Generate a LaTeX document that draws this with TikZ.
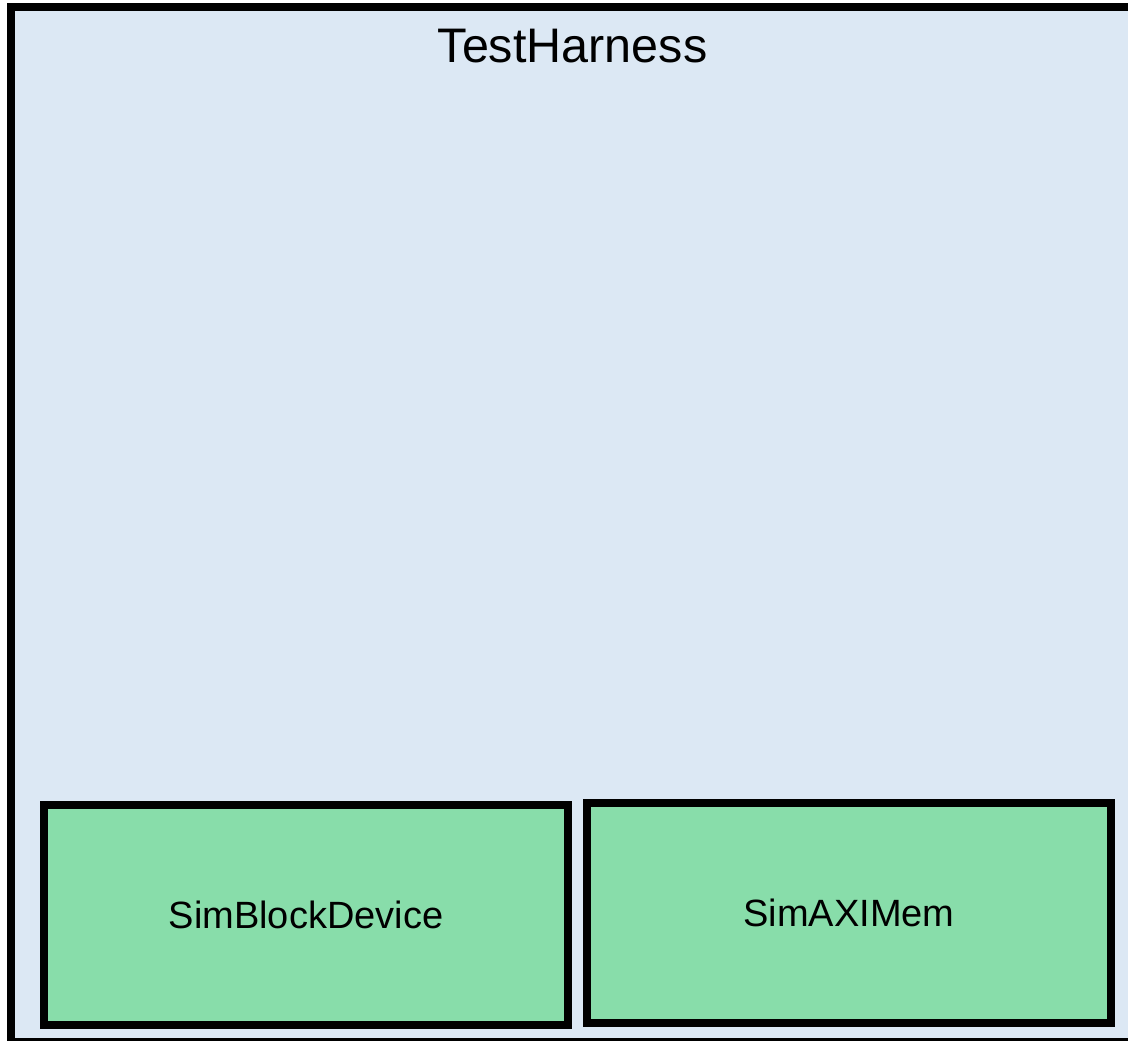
\documentclass[tikz,border=0pt]{standalone}
\usepackage{fontspec}
\setmainfont{Liberation Sans}
\definecolor{harnessfill}{HTML}{DCE8F4}
\definecolor{modfill}{HTML}{88DDAA}
\begin{document}
\begin{tikzpicture}[x=1pt,y=-1pt,
  container/.style={draw=black, line width=8pt, fill=harnessfill, inner sep=0pt},
  module/.style={draw=black, line width=8pt, fill=modfill, inner sep=0pt,
    font=\fontsize{38}{45}\selectfont},
  title/.style={font=\fontsize{48.5}{58}\selectfont, inner sep=0pt}]
  \useasboundingbox (0,0) rectangle (1128,1041);
  \clip (0,0) rectangle (1128,1041);
  % outer harness (extends past the right and bottom edges)
  \node[container, minimum width=1121pt, minimum height=1035pt] (harness) at (571.5,524.5) {};
  \node[title, anchor=base] (harnesstitle) at (572.5,63) {TestHarness};
  % simulated devices
  \node[module, minimum width=524pt, minimum height=220pt] (blockdev) at (306,915) {SimBlockDevice};
  \node[module, minimum width=524pt, minimum height=220pt] (aximem) at (849,913) {SimAXIMem};
\end{tikzpicture}
\end{document}
